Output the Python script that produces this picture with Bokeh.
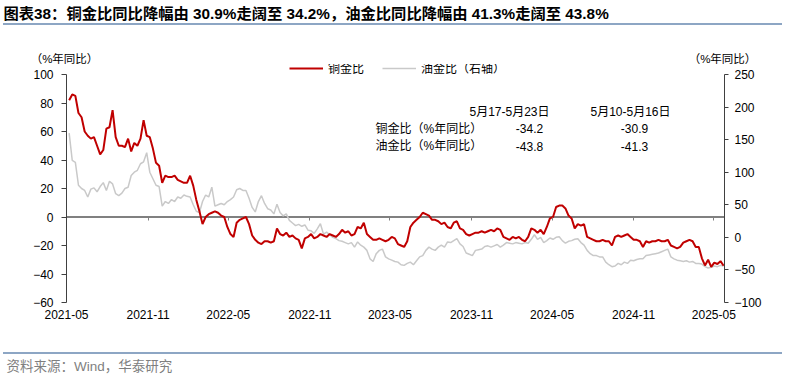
import pandas as pd
from bokeh.plotting import figure
from bokeh.models import (Range1d, LinearAxis, DatetimeAxis, FixedTicker, SingleIntervalTicker,
                          DatetimeTickFormatter, Label, Legend, LegendItem, Span, Div)
from bokeh.layouts import column
from bokeh.embed import file_html
from bokeh.resources import INLINE

# ---------------- data ----------------
first_week = "2021-05-07"          # weekly observations up to 2025-05-23
copper_gold_yoy = [
    82, 86, 85, 73, 70, 60, 57, 55, 56, 50,
    44, 47, 62, 63, 75, 56, 50, 50, 49, 55,
    46, 52, 50, 55, 68, 57, 56, 48, 38, 36,
    24, 29, 28, 28, 29, 26, 25, 24, 24, 29,
    22, 12, 4, -5, 0, 2, 3, 4, 3, 1,
    0, -7, -12, -14, -4, -2, -1, 0, -5, -13,
    -16, -18, -19, -17, -17, -18, -17, -8, -12, -13,
    -11, -14, -13, -15, -16, -22, -15, -14, -12, -15,
    -14, -12, -13, -14, -12, -13, -14, -12, -9, -11,
    -10, -13, -12, -7, -8, -4, -12, -14, -16, -16,
    -15, -16, -17, -16, -14, -15, -19, -20, -21, -17,
    -7, -4, -2, 0, 3, 2, 1, -2, -2, -3,
    -5, -4, -7, -8, -4, -3, -8, -9, -12, -13,
    -12, -11, -11, -10, -11, -10, -9, -10, -8, -9,
    -14, -15, -16, -14, -15, -14, -16, -17, -14, -8,
    -9, -11, -9, -12, -7, -1, 0, 7, 8, 8,
    6, 1, -1, -8, -5, -6, -5, -14, -15, -16,
    -17, -17, -16, -17, -17, -20, -14, -13, -14, -13,
    -12, -14, -16, -16, -17, -21, -17, -18, -17, -17,
    -16, -17, -17, -16, -20, -21, -22, -21, -18, -17,
    -16, -17, -21, -21, -29, -34, -30, -35, -32, -33,
    -31, -34.2,
]
oil_gold_yoy = [
    160, 118, 115, 80, 75, 72, 62, 74, 76, 70,
    78, 84, 72, 86, 82, 67, 64, 68, 75, 77,
    95, 100, 103, 113, 116, 130, 100, 90, 80, 78,
    48, 55, 52, 58, 55, 62, 60, 65, 63, 62,
    50, 40, 38, 55, 65, 62, 77, 48, 50, 52,
    50, 55, 58, 62, 73, 75, 72, 72, 60, 46,
    39, 55, 64, 52, 44, 42, 36, 51, 38, 33,
    36, 26, 22, 18, 20, 17, 19, 11, 10, 6,
    13, 21, 5, 8, 4, 0, -2, -5, -6, -8,
    -10, -8, -15, -7, -12, -15, -20, -33, -37, -25,
    -20, -18, -30, -33, -35, -37, -38, -42, -43, -40,
    -38, -42, -36, -30, -28, -20, -15, -18, -20, -15,
    -12, -15, -7, -8, -5, -2, -10, -14, -24, -26,
    -28, -20, -19, -18, -14, -13, -15, -13, -11, -15,
    -12, -8, -9, -10, -8, -9, -10, -8, -9, -3,
    4, -3, 0, -8, -5, -1, -3, 0, 1, -5,
    -9, -6, -5, -3, -2, -8, -12, -20, -25, -28,
    -28, -30, -30, -38, -42, -45, -44, -40, -42, -38,
    -40, -35, -36, -34, -33, -33, -28, -27, -26, -25,
    -24, -22, -20, -18, -30, -33, -35, -36, -37, -36,
    -38, -37, -40, -40, -41, -45, -47, -46, -44, -45,
    -43, -43.8,
]
tick_labels = ["2021-05", "2021-11", "2022-05", "2022-11", "2023-05",
               "2023-11", "2024-05", "2024-11", "2025-05"]
left_axis = (-60, 100, 20)     # min, max, step
right_axis = (-100, 250, 50)

title_text = "图表38：铜金比同比降幅由 30.9%走阔至 34.2%，油金比同比降幅由 41.3%走阔至 43.8%"
source_text = "资料来源：Wind，华泰研究"
unit_text = "（%年同比）"
series_names = ["铜金比", "油金比（右轴）"]
table_header = ["5月17-5月23日", "5月10-5月16日"]
table_rows = ["铜金比（%年同比）", "油金比（%年同比）"]
table_values = [["-34.2", "-30.9"], ["-43.8", "-41.3"]]

# ---------------- styling ----------------
RED = "#C00000"
GRAY = "#C9C9C9"
AXIS = "#404040"
RULE = "#8DA6C4"
LATIN = "Liberation Sans"
CJK = "Noto Sans CJK SC"
MIX = "Liberation Sans, Noto Sans CJK SC"

W = 786
TITLE_H = 23
RULE_H = 2
UNITS_H = 39
TOP_H = TITLE_H + RULE_H + UNITS_H      # 64: page y where the chart figure starts
BOT_Y = 352
dates = pd.date_range(first_week, periods=len(copper_gold_yoy), freq="7D")
x_start = pd.Timestamp("2021-05-01")
x_end = pd.Timestamp("2025-05-25")
ticks_ms = [pd.Timestamp(t + "-01").timestamp() * 1000 for t in tick_labels]


def plain_panel(h):
    f = figure(width=W, height=h, x_range=Range1d(0, W), y_range=Range1d(h, 0),
               x_axis_location=None, y_axis_location=None, min_border=0,
               output_backend="svg", toolbar_location=None)
    f.frame_align = False
    f.grid.visible = False
    f.outline_line_color = None
    f.background_fill_color = None
    f.border_fill_color = None
    return f


def rule_div():
    return Div(text="", width=779, height=RULE_H, margin=(0, 0, 0, 3),
               styles={"background-color": RULE})


# ---------------- header (title, rule, axis units) ----------------
title_fig = plain_panel(TITLE_H)
title_fig.add_layout(Label(x=3, y=13, text=title_text, text_font=MIX, text_font_style="bold",
                           text_font_size="15.3px", text_baseline="middle", text_color="#000000"))

units_fig = plain_panel(UNITS_H)
for cx in (64, 722):
    units_fig.add_layout(Label(x=cx, y=58 - TITLE_H - RULE_H, text=unit_text, text_font=MIX,
                               text_font_size="11.5px", text_align="center",
                               text_baseline="middle", text_color="#000000"))

# ---------------- main chart ----------------
# page pixels: left axis from 100 (y=74) to -60 (y=302); frame extends up to y=64 for the legend
FL, FR, FT, FB = 66, 724, 74, 302
FRAME_TOP = TOP_H
ext = (FT - FRAME_TOP) / (FB - FT)
l_lo, l_hi, l_step = left_axis
r_lo, r_hi, r_step = right_axis
p = figure(width=W, height=BOT_Y - TOP_H, x_axis_type="datetime",
           x_range=Range1d(x_start, x_end),
           y_range=Range1d(l_lo, l_hi + ext * (l_hi - l_lo)),
           min_border_left=FL, min_border_right=W - FR, min_border_top=FRAME_TOP - TOP_H,
           min_border_bottom=BOT_Y - FB, output_backend="svg", toolbar_location=None)
p.frame_align = False
p.extra_y_ranges = {"right": Range1d(r_lo, r_hi + ext * (r_hi - r_lo))}
p.grid.visible = False
p.outline_line_color = None
p.background_fill_color = None
p.border_fill_color = None

p.add_layout(Span(location=0, dimension="width", line_color="#808080", line_width=2, level="underlay"))

r_oil = p.line(dates, oil_gold_yoy, y_range_name="right", line_color=GRAY, line_width=1.5)
r_cu = p.line(dates, copper_gold_yoy, line_color=RED, line_width=2)

xa = p.xaxis[0]
xa.ticker = FixedTicker(ticks=ticks_ms)
xa.formatter = DatetimeTickFormatter(years="%Y-%m", months="%Y-%m", days="%Y-%m", hours="%Y-%m")
xa.axis_line_color = None
xa.major_tick_line_color = None
xa.major_tick_out = 0
xa.major_tick_in = 0
xa.minor_tick_line_color = None
xa.major_label_standoff = 7
xa.major_label_text_font = LATIN
xa.major_label_text_font_size = "12px"
xa.major_label_text_color = "#000000"

zero_axis = DatetimeAxis(fixed_location=0, ticker=FixedTicker(ticks=ticks_ms),
                         axis_line_color=None, major_tick_line_color="#808080",
                         major_tick_line_width=1, major_tick_out=3, major_tick_in=0,
                         minor_tick_line_color=None, major_label_text_color=None,
                         major_label_text_font_size="1px", major_label_standoff=0)
p.add_layout(zero_axis, "below")

ya = p.yaxis[0]
ya.ticker = SingleIntervalTicker(interval=l_step)
ya.bounds = (l_lo, l_hi)
ya.axis_line_color = AXIS
ya.major_tick_line_color = AXIS
ya.major_tick_out = 5
ya.major_tick_in = 0
ya.minor_tick_line_color = None
ya.major_label_standoff = 8
ya.major_label_text_font = LATIN
ya.major_label_text_font_size = "12px"
ya.major_label_text_color = "#000000"

ry = LinearAxis(y_range_name="right", ticker=SingleIntervalTicker(interval=r_step),
                bounds=(r_lo, r_hi),
                axis_line_color=AXIS, major_tick_line_color=AXIS, major_tick_out=4,
                major_tick_in=0, minor_tick_line_color=None, major_label_standoff=6,
                major_label_text_font=LATIN, major_label_text_font_size="12px",
                major_label_text_color="#000000")
p.add_layout(ry, "right")

legend = Legend(items=[LegendItem(label=series_names[0], renderers=[r_cu]),
                       LegendItem(label=series_names[1], renderers=[r_oil])],
                location=(289 - FL, FB - 76), orientation="horizontal",
                glyph_width=34, glyph_height=12, label_height=12, label_standoff=5,
                spacing=18, padding=0, margin=0, border_line_color=None,
                background_fill_alpha=0, label_text_font=CJK, label_text_font_size="12px",
                label_text_color="#000000")
p.add_layout(legend, "center")

# positions for the table, from page pixels to data coordinates
xs_ms = x_start.timestamp() * 1000
xe_ms = x_end.timestamp() * 1000


def fx(px):
    return xs_ms + (px - FL) / (FR - FL) * (xe_ms - xs_ms)


def fy(py):
    return l_hi - (py - FT) / (FB - FT) * (l_hi - l_lo)


def lab(txt, px, py, align, size="12px"):
    p.add_layout(Label(x=fx(px), y=fy(py), text=txt, text_font=MIX, text_font_size=size,
                       text_align=align, text_baseline="middle", text_color="#000000"))


lab(table_header[0], 509, 111, "center")
lab(table_header[1], 630, 111, "center")
for k, rowname in enumerate(table_rows):
    yy = 128 + 17.5 * k
    lab(rowname, 375, yy, "left")
    lab(table_values[k][0], 529, yy, "center")
    lab(table_values[k][1], 634, yy, "center")

# ---------------- footer ----------------
FOOT_H = 378 - BOT_Y - RULE_H
bot = plain_panel(FOOT_H)
bot.add_layout(Label(x=6, y=366 - BOT_Y - RULE_H, text=source_text, text_font=MIX,
                     text_font_size="13.5px", text_baseline="middle", text_color="#7F7F7F"))

layout = column(title_fig, rule_div(), units_fig, p, rule_div(), bot, spacing=0)
open("out.html", "w").write(file_html(layout, INLINE))
